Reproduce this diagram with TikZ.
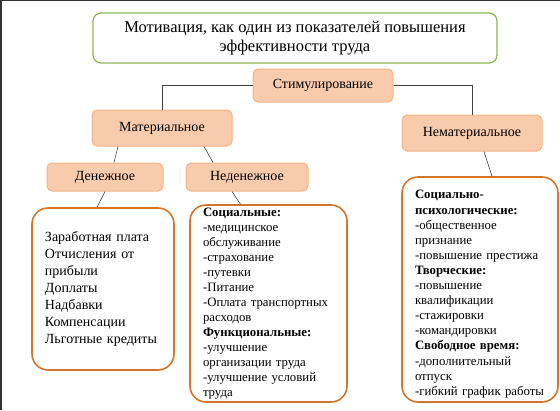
\documentclass[tikz,border=0pt]{standalone}
\usepackage{fontspec}
\setmainfont{Liberation Serif}
\usetikzlibrary{positioning}

\definecolor{peachfill}{RGB}{248,203,173}
\definecolor{peachline}{RGB}{244,180,135}
\definecolor{listorange}{RGB}{214,116,40}
\definecolor{titlegreen}{RGB}{140,185,85}
\definecolor{linkgray}{RGB}{64,64,64}
\definecolor{framegray}{RGB}{50,50,50}

\begin{document}
\begin{tikzpicture}[
            x=1pt, y=-1pt,
            titlebox/.style={draw=titlegreen, line width=1.3pt, rounded corners=8pt, minimum width=404pt, minimum height=50pt, align=center, font=\fontsize{16.5}{19}\selectfont},
            headbox/.style={draw=peachline, fill=peachfill, line width=1pt, rounded corners=5pt, font=\fontsize{14}{16}\selectfont},
            listbox/.style={draw=listorange, line width=1.6pt, rounded corners=16pt, align=left, inner xsep=13pt, inner ysep=0pt},
            link/.style={draw=linkgray, line width=0.6pt}
        ]
        \useasboundingbox (0,0) rectangle (560,410);
        \fill[framegray] (0,0) rectangle (2,410);
        \fill[framegray] (0,0) rectangle (560,1.2);

        \node[titlebox] (goal) at (295,38) {Мотивация, как один из показателей повышения\\эффективности труда};
        \node[headbox, minimum width=140pt, minimum height=33pt] (stim) at (323,85.5) {Стимулирование};
        \node[headbox, minimum width=140pt, minimum height=36pt] (mat) at (162,128) {Материальное};
        \node[headbox, minimum width=140pt, minimum height=36pt] (nemat) at (472,133) {Нематериальное};
        \node[headbox, minimum width=116pt, minimum height=28pt] (den) at (105,177) {Денежное};
        \node[headbox, minimum width=122pt, minimum height=28pt] (neden) at (247,177) {Неденежное};

        \node[listbox, text width=116pt, minimum height=162pt, font=\fontsize{14}{17.1}\selectfont] (money) at (103,289)
            {Заработная плата\\Отчисления от\\прибыли\\Доплаты\\Надбавки\\Компенсации\\Льготные кредиты};
        \node[listbox, text width=131pt, minimum height=197pt, font=\fontsize{12.8}{15}\selectfont] (nonmoney) at (268.5,303.5)
            {\textbf{Социальные:}\\-медицинское\\обслуживание\\-страхование\\-путевки\\-Питание\\-Оплата транспортных\\расходов\\\textbf{Функциональные:}\\-улучшение\\организации труда\\-улучшение условий\\труда};
        \node[listbox, text width=130pt, minimum height=225pt, font=\fontsize{12.8}{15.1}\selectfont] (nonmat) at (480,289.5)
            {\rule{0pt}{18pt}\textbf{Социально-}\\\textbf{психологические:}\\-общественное\\признание\\-повышение престижа\\\textbf{Творческие:}\\-повышение\\квалификации\\-стажировки\\-командировки\\\textbf{Свободное время:}\\-дополнительный\\отпуск\\-гибкий график работы};

        \draw[link] (stim.west) -| (mat.north);
        \draw[link] (stim.east) -| (nemat.north);
        \draw[link] ([xshift=-44pt]mat.south) -- ([xshift=9pt]den.north);
        \draw[link] ([xshift=42pt]mat.south) -- ([xshift=-34pt]neden.north);
        \draw[link] (den.south) -- ([xshift=-6pt]money.north);
        \draw[link] ([xshift=-15pt]neden.south) -- ([xshift=-28pt]nonmoney.north);
        \draw[link] ([xshift=12pt]nemat.south) -- ([xshift=12pt]nonmat.north);
    \end{tikzpicture}
\end{document}
